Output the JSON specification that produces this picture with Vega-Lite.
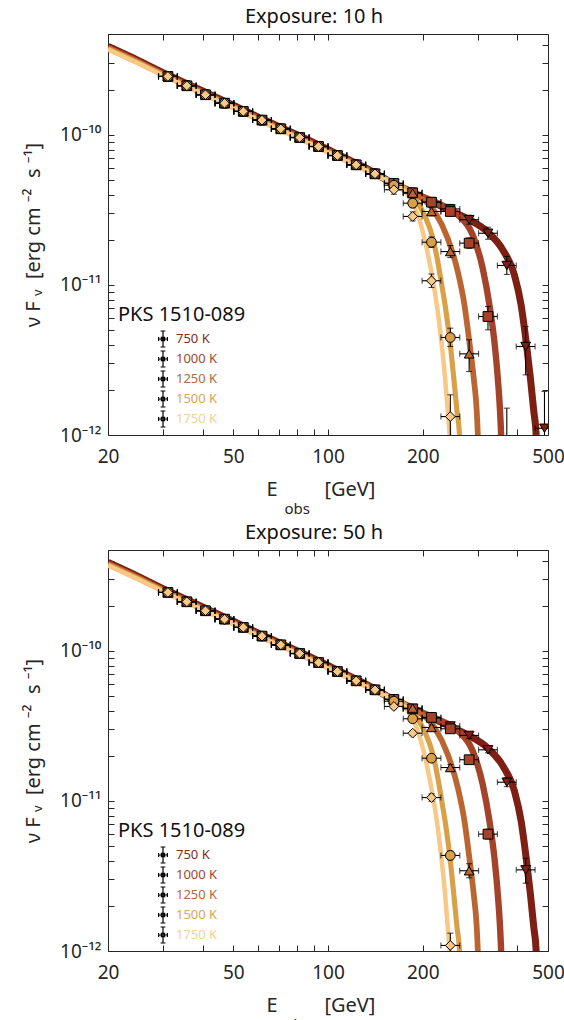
{
"$schema": "https://vega.github.io/schema/vega-lite/v6.json",
"padding": {"left": 23, "top": 6, "right": 5, "bottom": 5},
"config": {"font": "Noto Sans", "view": {"stroke": "#262626", "strokeWidth": 1}, "axis": {"grid": false, "labelColor": "#262626", "titleColor": "#262626", "tickColor": "#262626", "labelFont": "Noto Sans", "titleFont": "Noto Sans"}, "legend": {"labelFont": "Noto Sans", "titleFont": "Noto Sans"}},
"datasets": {
"curves": [
{"s":"750 K","E":20,"F":3.890e-10},{"s":"750 K","E":25,"F":3.133e-10},{"s":"750 K","E":31,"F":2.512e-10},{"s":"750 K","E":40,"F":1.963e-10},{"s":"750 K","E":50,"F":1.581e-10},{"s":"750 K","E":63,"F":1.253e-10},{"s":"750 K","E":81.3,"F":9.840e-11},{"s":"750 K","E":100,"F":7.998e-11},{"s":"750 K","E":125,"F":6.360e-11},{"s":"750 K","E":141,"F":5.580e-11},{"s":"750 K","E":160,"F":4.790e-11},{"s":"750 K","E":186,"F":4.140e-11},{"s":"750 K","E":213,"F":3.589e-11},{"s":"750 K","E":245,"F":3.126e-11},{"s":"750 K","E":278,"F":2.754e-11},{"s":"750 K","E":322,"F":2.249e-11},{"s":"750 K","E":359,"F":1.718e-11},{"s":"750 K","E":391,"F":1.169e-11},{"s":"750 K","E":410.6,"F":7.379e-12},{"s":"750 K","E":426,"F":4.198e-12},{"s":"750 K","E":439.6,"F":2.393e-12},{"s":"750 K","E":450.7,"F":1.436e-12},{"s":"750 K","E":458.2,"F":1.028e-12},{"s":"750 K","E":463,"F":5.012e-13},
{"s":"1000 K","E":20,"F":3.802e-10},{"s":"1000 K","E":25,"F":3.062e-10},{"s":"1000 K","E":31,"F":2.455e-10},{"s":"1000 K","E":40,"F":1.919e-10},{"s":"1000 K","E":50,"F":1.545e-10},{"s":"1000 K","E":63,"F":1.225e-10},{"s":"1000 K","E":81.3,"F":9.616e-11},{"s":"1000 K","E":100,"F":7.816e-11},{"s":"1000 K","E":125,"F":6.252e-11},{"s":"1000 K","E":141,"F":5.508e-11},{"s":"1000 K","E":160,"F":4.753e-11},{"s":"1000 K","E":186,"F":4.121e-11},{"s":"1000 K","E":223,"F":3.508e-11},{"s":"1000 K","E":258,"F":2.951e-11},{"s":"1000 K","E":288,"F":2.163e-11},{"s":"1000 K","E":310,"F":1.294e-11},{"s":"1000 K","E":325.7,"F":7.379e-12},{"s":"1000 K","E":337.8,"F":4.198e-12},{"s":"1000 K","E":346.3,"F":2.393e-12},{"s":"1000 K","E":352.1,"F":1.436e-12},{"s":"1000 K","E":354.7,"F":1.028e-12},{"s":"1000 K","E":358,"F":5.012e-13},
{"s":"1250 K","E":20,"F":3.802e-10},{"s":"1250 K","E":25,"F":3.062e-10},{"s":"1250 K","E":31,"F":2.455e-10},{"s":"1250 K","E":40,"F":1.919e-10},{"s":"1250 K","E":50,"F":1.545e-10},{"s":"1250 K","E":63,"F":1.225e-10},{"s":"1250 K","E":81.3,"F":9.616e-11},{"s":"1250 K","E":100,"F":7.816e-11},{"s":"1250 K","E":125,"F":6.252e-11},{"s":"1250 K","E":141,"F":5.508e-11},{"s":"1250 K","E":160,"F":4.732e-11},{"s":"1250 K","E":188,"F":4.074e-11},{"s":"1250 K","E":218,"F":3.090e-11},{"s":"1250 K","E":240,"F":2.051e-11},{"s":"1250 K","E":258.4,"F":1.230e-11},{"s":"1250 K","E":271.3,"F":7.379e-12},{"s":"1250 K","E":281.2,"F":4.198e-12},{"s":"1250 K","E":290.4,"F":2.393e-12},{"s":"1250 K","E":296.9,"F":1.436e-12},{"s":"1250 K","E":299.1,"F":1.028e-12},{"s":"1250 K","E":302,"F":5.012e-13},
{"s":"1500 K","E":20,"F":3.758e-10},{"s":"1500 K","E":25,"F":3.027e-10},{"s":"1500 K","E":31,"F":2.427e-10},{"s":"1500 K","E":40,"F":1.897e-10},{"s":"1500 K","E":50,"F":1.528e-10},{"s":"1500 K","E":63,"F":1.211e-10},{"s":"1500 K","E":81.3,"F":9.506e-11},{"s":"1500 K","E":100,"F":7.727e-11},{"s":"1500 K","E":125,"F":6.180e-11},{"s":"1500 K","E":141,"F":5.445e-11},{"s":"1500 K","E":155,"F":5.012e-11},{"s":"1500 K","E":170.6,"F":4.571e-11},{"s":"1500 K","E":188.1,"F":3.793e-11},{"s":"1500 K","E":202.4,"F":2.938e-11},{"s":"1500 K","E":215.3,"F":2.051e-11},{"s":"1500 K","E":223.2,"F":1.435e-11},{"s":"1500 K","E":229.8,"F":1.002e-11},{"s":"1500 K","E":237.2,"F":6.653e-12},{"s":"1500 K","E":244.8,"F":3.990e-12},{"s":"1500 K","E":251,"F":2.393e-12},{"s":"1500 K","E":257,"F":1.436e-12},{"s":"1500 K","E":261.5,"F":1.028e-12},{"s":"1500 K","E":265,"F":5.012e-13},
{"s":"1750 K","E":20,"F":3.715e-10},{"s":"1750 K","E":25,"F":2.992e-10},{"s":"1750 K","E":31,"F":2.399e-10},{"s":"1750 K","E":40,"F":1.875e-10},{"s":"1750 K","E":50,"F":1.510e-10},{"s":"1750 K","E":63,"F":1.197e-10},{"s":"1750 K","E":81.3,"F":9.397e-11},{"s":"1750 K","E":100,"F":7.638e-11},{"s":"1750 K","E":125,"F":6.109e-11},{"s":"1750 K","E":141,"F":5.383e-11},{"s":"1750 K","E":158.6,"F":4.842e-11},{"s":"1750 K","E":179.2,"F":3.990e-11},{"s":"1750 K","E":192.8,"F":2.938e-11},{"s":"1750 K","E":202.4,"F":2.051e-11},{"s":"1750 K","E":209.9,"F":1.435e-11},{"s":"1750 K","E":216.7,"F":1.002e-11},{"s":"1750 K","E":223.2,"F":6.653e-12},{"s":"1750 K","E":229.8,"F":3.990e-12},{"s":"1750 K","E":235.5,"F":2.393e-12},{"s":"1750 K","E":240.2,"F":1.436e-12},{"s":"1750 K","E":243.1,"F":1.028e-12},{"s":"1750 K","E":246,"F":5.012e-13}
],
"p10": [
{"s":["750 K","1000 K","1250 K","1500 K","1750 K"],"E":31.0,"e0":28.94,"e1":33.21,"F":2.455e-10,"lo":2.291e-10,"hi":2.630e-10},
{"s":["750 K","1000 K","1250 K","1500 K","1750 K"],"E":35.6,"e0":33.21,"e1":38.12,"F":2.128e-10,"lo":1.986e-10,"hi":2.280e-10},
{"s":["750 K","1000 K","1250 K","1500 K","1750 K"],"E":40.8,"e0":38.12,"e1":43.75,"F":1.854e-10,"lo":1.730e-10,"hi":1.987e-10},
{"s":["750 K","1000 K","1250 K","1500 K","1750 K"],"E":46.9,"e0":43.75,"e1":50.2,"F":1.629e-10,"lo":1.520e-10,"hi":1.745e-10},
{"s":["750 K","1000 K","1250 K","1500 K","1750 K"],"E":53.8,"e0":50.2,"e1":57.6,"F":1.436e-10,"lo":1.340e-10,"hi":1.539e-10},
{"s":["750 K","1000 K","1250 K","1500 K","1750 K"],"E":61.7,"e0":57.6,"e1":66.1,"F":1.256e-10,"lo":1.172e-10,"hi":1.346e-10},
{"s":["750 K","1000 K","1250 K","1500 K","1750 K"],"E":70.8,"e0":66.1,"e1":75.9,"F":1.099e-10,"lo":1.026e-10,"hi":1.178e-10},
{"s":["750 K","1000 K","1250 K","1500 K","1750 K"],"E":81.3,"e0":75.9,"e1":87.1,"F":9.616e-11,"lo":8.974e-11,"hi":1.030e-10},
{"s":["750 K","1000 K","1250 K","1500 K","1750 K"],"E":93.3,"e0":87.1,"e1":100.0,"F":8.375e-11,"lo":7.816e-11,"hi":8.974e-11},
{"s":["750 K","1000 K","1250 K","1500 K","1750 K"],"E":107.1,"e0":100.0,"e1":114.7,"F":7.295e-11,"lo":6.808e-11,"hi":7.817e-11},
{"s":["750 K","1000 K","1250 K","1500 K","1750 K"],"E":122.9,"e0":114.7,"e1":131.7,"F":6.324e-11,"lo":5.902e-11,"hi":6.776e-11},
{"s":["750 K","1000 K","1250 K","1500 K","1750 K"],"E":141.0,"e0":131.7,"e1":151.1,"F":5.508e-11,"lo":5.140e-11,"hi":5.902e-11},
{"s":["750 K","1000 K","1250 K"],"E":161.9,"e0":151.1,"e1":173.4,"F":4.753e-11,"lo":4.436e-11,"hi":5.093e-11},
{"s":["1500 K"],"E":161.9,"e0":151.1,"e1":173.4,"F":4.624e-11,"lo":4.315e-11,"hi":4.955e-11},
{"s":["1750 K"],"E":161.9,"e0":151.1,"e1":173.4,"F":4.315e-11,"lo":4.027e-11,"hi":4.624e-11},
{"s":["750 K"],"E":185.8,"e0":173.4,"e1":199.0,"F":4.140e-11,"lo":3.864e-11,"hi":4.436e-11},
{"s":["1000 K"],"E":185.8,"e0":173.4,"e1":199.0,"F":4.111e-11,"lo":3.837e-11,"hi":4.405e-11},
{"s":["1250 K"],"E":185.8,"e0":173.4,"e1":199.0,"F":4.093e-11,"lo":3.820e-11,"hi":4.386e-11},
{"s":["1500 K"],"E":185.8,"e0":173.4,"e1":199.0,"F":3.508e-11,"lo":3.274e-11,"hi":3.759e-11},
{"s":["1750 K"],"E":185.8,"e0":173.4,"e1":199.0,"F":2.864e-11,"lo":2.673e-11,"hi":3.069e-11},
{"s":["750 K"],"E":213.2,"e0":199.0,"e1":228.4,"F":3.573e-11,"lo":3.335e-11,"hi":3.829e-11},
{"s":["1000 K"],"E":213.2,"e0":199.0,"e1":228.4,"F":3.565e-11,"lo":3.327e-11,"hi":3.820e-11},
{"s":["1250 K"],"E":213.2,"e0":199.0,"e1":228.4,"F":3.090e-11,"lo":2.884e-11,"hi":3.311e-11},
{"s":["1500 K"],"E":213.2,"e0":199.0,"e1":228.4,"F":1.928e-11,"lo":1.779e-11,"hi":2.090e-11},
{"s":["1750 K"],"E":213.2,"e0":199.0,"e1":228.4,"F":1.067e-11,"lo":9.62e-12,"hi":1.183e-11},
{"s":["750 K"],"E":244.7,"e0":228.4,"e1":262.2,"F":3.214e-11,"lo":3.000e-11,"hi":3.444e-11},
{"s":["1000 K"],"E":244.7,"e0":228.4,"e1":262.2,"F":3.090e-11,"lo":2.884e-11,"hi":3.311e-11},
{"s":["1250 K"],"E":244.7,"e0":228.4,"e1":262.2,"F":1.671e-11,"lo":1.524e-11,"hi":1.832e-11},
{"s":["1500 K"],"E":244.7,"e0":228.4,"e1":262.2,"F":4.467e-12,"lo":3.890e-12,"hi":5.152e-12},
{"s":["1750 K"],"E":244.7,"e0":228.4,"e1":262.2,"F":1.327e-12,"lo":5.0e-13,"hi":1.854e-12},
{"s":["750 K"],"E":280.8,"e0":262.2,"e1":300.9,"F":2.723e-11,"lo":2.541e-11,"hi":2.918e-11},
{"s":["1000 K"],"E":280.8,"e0":262.2,"e1":300.9,"F":1.901e-11,"lo":1.754e-11,"hi":2.061e-11},
{"s":["1250 K"],"E":280.8,"e0":262.2,"e1":300.9,"F":3.475e-12,"lo":2.649e-12,"hi":4.315e-12},
{"s":["750 K"],"E":322.3,"e0":300.9,"e1":345.3,"F":2.213e-11,"lo":2.018e-11,"hi":2.427e-11},
{"s":["1000 K"],"E":322.3,"e0":300.9,"e1":345.3,"F":6.166e-12,"lo":5.023e-12,"hi":7.194e-12},
{"s":["750 K"],"E":369.9,"e0":345.3,"e1":396.3,"F":1.349e-11,"lo":1.175e-11,"hi":1.549e-11},
{"s":["1000 K"],"E":369.9,"e0":345.3,"e1":396.3,"F":5.0e-13,"lo":1.0e-13,"hi":1.510e-12},
{"s":["750 K"],"E":424.6,"e0":396.3,"e1":454.9,"F":3.890e-12,"lo":2.518e-12,"hi":5.284e-12},
{"s":["750 K"],"E":487.3,"e0":454.9,"e1":522.1,"F":1.109e-12,"lo":3.0e-13,"hi":1.950e-12}
],
"p50": [
{"s":["750 K","1000 K","1250 K","1500 K","1750 K"],"E":31.0,"e0":28.94,"e1":33.21,"F":2.455e-10,"lo":2.372e-10,"hi":2.541e-10},
{"s":["750 K","1000 K","1250 K","1500 K","1750 K"],"E":35.6,"e0":33.21,"e1":38.12,"F":2.128e-10,"lo":2.056e-10,"hi":2.203e-10},
{"s":["750 K","1000 K","1250 K","1500 K","1750 K"],"E":40.8,"e0":38.12,"e1":43.75,"F":1.854e-10,"lo":1.791e-10,"hi":1.919e-10},
{"s":["750 K","1000 K","1250 K","1500 K","1750 K"],"E":46.9,"e0":43.75,"e1":50.2,"F":1.629e-10,"lo":1.574e-10,"hi":1.686e-10},
{"s":["750 K","1000 K","1250 K","1500 K","1750 K"],"E":53.8,"e0":50.2,"e1":57.6,"F":1.436e-10,"lo":1.387e-10,"hi":1.486e-10},
{"s":["750 K","1000 K","1250 K","1500 K","1750 K"],"E":61.7,"e0":57.6,"e1":66.1,"F":1.256e-10,"lo":1.213e-10,"hi":1.300e-10},
{"s":["750 K","1000 K","1250 K","1500 K","1750 K"],"E":70.8,"e0":66.1,"e1":75.9,"F":1.099e-10,"lo":1.062e-10,"hi":1.138e-10},
{"s":["750 K","1000 K","1250 K","1500 K","1750 K"],"E":81.3,"e0":75.9,"e1":87.1,"F":9.616e-11,"lo":9.290e-11,"hi":9.954e-11},
{"s":["750 K","1000 K","1250 K","1500 K","1750 K"],"E":93.3,"e0":87.1,"e1":100.0,"F":8.375e-11,"lo":8.091e-11,"hi":8.669e-11},
{"s":["750 K","1000 K","1250 K","1500 K","1750 K"],"E":107.1,"e0":100.0,"e1":114.7,"F":7.295e-11,"lo":7.048e-11,"hi":7.551e-11},
{"s":["750 K","1000 K","1250 K","1500 K","1750 K"],"E":122.9,"e0":114.7,"e1":131.7,"F":6.324e-11,"lo":6.110e-11,"hi":6.546e-11},
{"s":["750 K","1000 K","1250 K","1500 K","1750 K"],"E":141.0,"e0":131.7,"e1":151.1,"F":5.508e-11,"lo":5.321e-11,"hi":5.701e-11},
{"s":["750 K","1000 K","1250 K"],"E":161.9,"e0":151.1,"e1":173.4,"F":4.753e-11,"lo":4.592e-11,"hi":4.920e-11},
{"s":["1500 K"],"E":161.9,"e0":151.1,"e1":173.4,"F":4.624e-11,"lo":4.467e-11,"hi":4.786e-11},
{"s":["1750 K"],"E":161.9,"e0":151.1,"e1":173.4,"F":4.266e-11,"lo":4.121e-11,"hi":4.416e-11},
{"s":["750 K"],"E":185.8,"e0":173.4,"e1":199.0,"F":4.140e-11,"lo":4.000e-11,"hi":4.285e-11},
{"s":["1000 K"],"E":185.8,"e0":173.4,"e1":199.0,"F":4.111e-11,"lo":3.972e-11,"hi":4.255e-11},
{"s":["1250 K"],"E":185.8,"e0":173.4,"e1":199.0,"F":4.159e-11,"lo":4.018e-11,"hi":4.305e-11},
{"s":["1500 K"],"E":185.8,"e0":173.4,"e1":199.0,"F":3.532e-11,"lo":3.412e-11,"hi":3.656e-11},
{"s":["1750 K"],"E":185.8,"e0":173.4,"e1":199.0,"F":2.831e-11,"lo":2.735e-11,"hi":2.930e-11},
{"s":["750 K"],"E":213.2,"e0":199.0,"e1":228.4,"F":3.573e-11,"lo":3.452e-11,"hi":3.698e-11},
{"s":["1000 K"],"E":213.2,"e0":199.0,"e1":228.4,"F":3.606e-11,"lo":3.484e-11,"hi":3.733e-11},
{"s":["1250 K"],"E":213.2,"e0":199.0,"e1":228.4,"F":3.090e-11,"lo":2.985e-11,"hi":3.198e-11},
{"s":["1500 K"],"E":213.2,"e0":199.0,"e1":228.4,"F":1.928e-11,"lo":1.841e-11,"hi":2.019e-11},
{"s":["1750 K"],"E":213.2,"e0":199.0,"e1":228.4,"F":1.054e-11,"lo":9.95e-12,"hi":1.116e-11},
{"s":["750 K"],"E":244.7,"e0":228.4,"e1":262.2,"F":3.162e-11,"lo":3.055e-11,"hi":3.273e-11},
{"s":["1000 K"],"E":244.7,"e0":228.4,"e1":262.2,"F":3.027e-11,"lo":2.924e-11,"hi":3.133e-11},
{"s":["1250 K"],"E":244.7,"e0":228.4,"e1":262.2,"F":1.671e-11,"lo":1.596e-11,"hi":1.750e-11},
{"s":["1500 K"],"E":244.7,"e0":228.4,"e1":262.2,"F":4.335e-12,"lo":4.046e-12,"hi":4.645e-12},
{"s":["1750 K"],"E":244.7,"e0":228.4,"e1":262.2,"F":1.089e-12,"lo":8.91e-13,"hi":1.315e-12},
{"s":["750 K"],"E":280.8,"e0":262.2,"e1":300.9,"F":2.735e-11,"lo":2.612e-11,"hi":2.864e-11},
{"s":["1000 K"],"E":280.8,"e0":262.2,"e1":300.9,"F":1.884e-11,"lo":1.799e-11,"hi":1.973e-11},
{"s":["1250 K"],"E":280.8,"e0":262.2,"e1":300.9,"F":3.428e-12,"lo":3.077e-12,"hi":3.819e-12},
{"s":["750 K"],"E":322.3,"e0":300.9,"e1":345.3,"F":2.193e-11,"lo":2.094e-11,"hi":2.296e-11},
{"s":["1000 K"],"E":322.3,"e0":300.9,"e1":345.3,"F":6.012e-12,"lo":5.572e-12,"hi":6.487e-12},
{"s":["750 K"],"E":369.9,"e0":345.3,"e1":396.3,"F":1.334e-11,"lo":1.245e-11,"hi":1.429e-11},
{"s":["750 K"],"E":424.6,"e0":396.3,"e1":454.9,"F":3.475e-12,"lo":2.831e-12,"hi":4.159e-12}
]
},
"spacing": 115,
"bounds": "flush",
"resolve": {"legend": {"color": "independent"}},
"vconcat": [
{
"title": {"text": "Exposure: 10 h", "fontSize": 20, "fontWeight": "normal", "font": "Noto Sans", "color": "#111111", "anchor": "middle", "dx": -14, "offset": 7},
"width": 440, "height": 401,
"data": {"name": "p10"},
"resolve": {"axis": {"x": "independent", "y": "independent"}},
"layer": [
{"data": {"name": "curves"}, "mark": {"type": "line", "clip": true, "interpolate": "monotone", "strokeCap": "butt"},
 "encoding": {
  "x": {"field": "E", "type": "quantitative", "scale": {"type": "log", "domain": [20, 500], "nice": false}, "axis": {"orient": "bottom", "values": [20, 50, 100, 200, 500], "format": "d", "ticks": false, "domain": false, "labelFontSize": 19, "labelPadding": 12, "labelFlush": false, "labelOverlap": false, "title": "E\u00a0\u00a0\u00a0\u00a0\u00a0\u00a0\u00a0\u00a0\u00a0[GeV]", "titleFontSize": 20, "titleFontWeight": "normal", "titleX": 158, "titleY": 60, "titleAlign": "left", "titleBaseline": "alphabetic"}},
  "y": {"field": "F", "type": "quantitative", "scale": {"type": "log", "domain": [1e-12, 4.71e-10], "nice": false}, "axis": {"orient": "left", "values": [1e-12, 1e-11, 1e-10], "ticks": false, "domain": false, "labelExpr": "datum.value < 2e-12 ? '10⁻¹²' : datum.value < 2e-11 ? '10⁻¹¹' : '10⁻¹⁰'", "labelFontSize": 19, "labelPadding": 7, "labelFlush": false, "labelOverlap": false, "title": "ν\u00a0F\u00a0ᵥ\u00a0\u00a0[erg\u00a0cm\u00a0⁻²\u00a0\u00a0s\u00a0⁻¹]", "titleFontSize": 20, "titleFontWeight": "normal", "titlePadding": 16}},
  "stroke": {"field": "s", "type": "nominal", "scale": {"domain": ["750 K", "1000 K", "1250 K", "1500 K", "1750 K"], "range": ["#7E1F14", "#A4422A", "#BB6632", "#D9A049", "#F8C986"]}, "legend": null},
  "strokeWidth": {"field": "s", "type": "ordinal", "scale": {"domain": ["750 K", "1000 K", "1250 K", "1500 K", "1750 K"], "range": [7, 4.5, 4.5, 4.5, 5]}, "legend": null}
 }},
{"transform": [{"flatten": ["s"]}], "mark": {"type": "rule", "clip": true, "color": "black", "strokeWidth": 1.1},
 "encoding": {
  "x": {"field": "e0", "type": "quantitative", "scale": {"type": "log", "domain": [20, 500], "nice": false}, "axis": {"orient": "bottom", "values": [20, 30, 40, 50, 60, 70, 80, 90, 100, 200, 300, 400, 500], "labels": false, "domain": false, "ticks": true, "tickSize": -6, "title": null}},
  "x2": {"field": "e1"},
  "y": {"field": "F", "type": "quantitative", "scale": {"type": "log", "domain": [1e-12, 4.71e-10], "nice": false}, "axis": {"orient": "left", "values": [1e-12, 2e-12, 3e-12, 4e-12, 5e-12, 6e-12, 7e-12, 8e-12, 9e-12, 1e-11, 2e-11, 3e-11, 4e-11, 5e-11, 6e-11, 7e-11, 8e-11, 9e-11, 1e-10, 2e-10, 3e-10, 4e-10], "labels": false, "domain": false, "ticks": true, "tickSize": -6, "title": null}}
 }},
{"transform": [{"flatten": ["s"]}], "mark": {"type": "rule", "clip": true, "color": "black", "strokeWidth": 1.1},
 "encoding": {
  "x": {"field": "E", "type": "quantitative", "scale": {"type": "log", "domain": [20, 500], "nice": false}, "axis": {"orient": "top", "values": [20, 30, 40, 50, 60, 70, 80, 90, 100, 200, 300, 400, 500], "labels": false, "domain": false, "ticks": true, "tickSize": -6, "title": null}},
  "y": {"field": "lo", "type": "quantitative", "scale": {"type": "log", "domain": [1e-12, 4.71e-10], "nice": false}, "axis": {"orient": "right", "values": [1e-12, 2e-12, 3e-12, 4e-12, 5e-12, 6e-12, 7e-12, 8e-12, 9e-12, 1e-11, 2e-11, 3e-11, 4e-11, 5e-11, 6e-11, 7e-11, 8e-11, 9e-11, 1e-10, 2e-10, 3e-10, 4e-10], "labels": false, "domain": false, "ticks": true, "tickSize": -6, "title": null}},
  "y2": {"field": "hi"}
 }},
{"transform": [{"flatten": ["s"]}], "mark": {"type": "tick", "orient": "horizontal", "size": 6, "thickness": 1.1, "color": "black", "clip": true},
 "encoding": {
  "x": {"field": "E", "type": "quantitative", "scale": {"type": "log", "domain": [20, 500], "nice": false}, "axis": {"orient": "bottom", "labels": false, "ticks": false, "domain": false, "title": "obs", "titleFontSize": 15, "titleFontWeight": "normal", "titleX": 176, "titleY": 78, "titleAlign": "left", "titleBaseline": "alphabetic"}},
  "y": {"field": "lo", "type": "quantitative", "scale": {"type": "log", "domain": [1e-12, 4.71e-10], "nice": false}, "axis": null}
 }},
{"transform": [{"flatten": ["s"]}], "mark": {"type": "tick", "orient": "horizontal", "size": 6, "thickness": 1.1, "color": "black", "clip": true},
 "encoding": {
  "x": {"field": "E", "type": "quantitative", "scale": {"type": "log", "domain": [20, 500], "nice": false}, "axis": null},
  "y": {"field": "hi", "type": "quantitative", "scale": {"type": "log", "domain": [1e-12, 4.71e-10], "nice": false}, "axis": null}
 }},
{"transform": [{"flatten": ["s"]}], "mark": {"type": "tick", "orient": "vertical", "size": 6, "thickness": 1.1, "color": "black", "clip": true},
 "encoding": {
  "x": {"field": "e0", "type": "quantitative", "scale": {"type": "log", "domain": [20, 500], "nice": false}, "axis": null},
  "y": {"field": "F", "type": "quantitative", "scale": {"type": "log", "domain": [1e-12, 4.71e-10], "nice": false}, "axis": null}
 }},
{"transform": [{"flatten": ["s"]}], "mark": {"type": "tick", "orient": "vertical", "size": 6, "thickness": 1.1, "color": "black", "clip": true},
 "encoding": {
  "x": {"field": "e1", "type": "quantitative", "scale": {"type": "log", "domain": [20, 500], "nice": false}, "axis": null},
  "y": {"field": "F", "type": "quantitative", "scale": {"type": "log", "domain": [1e-12, 4.71e-10], "nice": false}, "axis": null}
 }},
{"transform": [{"flatten": ["s"]}], "mark": {"type": "point", "filled": true, "stroke": "black", "strokeWidth": 1, "size": 95, "opacity": 1, "clip": true},
 "encoding": {
  "x": {"field": "E", "type": "quantitative", "scale": {"type": "log", "domain": [20, 500], "nice": false}, "axis": null},
  "y": {"field": "F", "type": "quantitative", "scale": {"type": "log", "domain": [1e-12, 4.71e-10], "nice": false}, "axis": null},
  "color": {"field": "s", "type": "nominal", "scale": {"domain": ["750 K", "1000 K", "1250 K", "1500 K", "1750 K"], "range": ["#7E1F14", "#A4422A", "#BB6632", "#D9A049", "#F8C986"]},
   "legend": {"orient": "none", "legendX": 10, "legendY": 271, "title": "PKS 1510-089", "titleFontSize": 20, "titleFontWeight": "normal", "titleColor": "#111111", "titlePadding": 5, "padding": 0, "labelFontSize": 13, "labelOffset": 4, "labelColor": {"expr": "datum.value == '750 K' ? '#7E2A1F' : datum.value == '1000 K' ? '#A0472F' : datum.value == '1250 K' ? '#B3683A' : datum.value == '1500 K' ? '#DCA552' : '#F6CF95'"}, "symbolOffset": 36, "symbolSize": 256, "symbolStrokeColor": "black", "symbolStrokeWidth": 1.2, "symbolType": "M0,-1L0,1M-0.3,-1L0.3,-1M-0.3,1L0.3,1M-0.55,0L0.55,0M-0.55,-0.25L-0.55,0.25M0.55,-0.25L0.55,0.25M-0.2,-0.2L0.2,-0.2L0.2,0.2L-0.2,0.2Z", "rowPadding": -2,
    "encode": {"symbols": {"update": {"stroke": {"value": "black"}, "strokeWidth": {"value": 1.2}, "opacity": {"value": 1}}}}}},
  "shape": {"field": "s", "type": "nominal", "scale": {"domain": ["750 K", "1000 K", "1250 K", "1500 K", "1750 K"], "range": ["triangle-down", "square", "triangle-up", "circle", "diamond"]}, "legend": null}
 }}
]
},
{
"title": {"text": "Exposure: 50 h", "fontSize": 20, "fontWeight": "normal", "font": "Noto Sans", "color": "#111111", "anchor": "middle", "dx": -14, "offset": 7},
"width": 440, "height": 401,
"data": {"name": "p50"},
"resolve": {"axis": {"x": "independent", "y": "independent"}},
"layer": [
{"data": {"name": "curves"}, "mark": {"type": "line", "clip": true, "interpolate": "monotone", "strokeCap": "butt"},
 "encoding": {
  "x": {"field": "E", "type": "quantitative", "scale": {"type": "log", "domain": [20, 500], "nice": false}, "axis": {"orient": "bottom", "values": [20, 50, 100, 200, 500], "format": "d", "ticks": false, "domain": false, "labelFontSize": 19, "labelPadding": 12, "labelFlush": false, "labelOverlap": false, "title": "E\u00a0\u00a0\u00a0\u00a0\u00a0\u00a0\u00a0\u00a0\u00a0[GeV]", "titleFontSize": 20, "titleFontWeight": "normal", "titleX": 158, "titleY": 60, "titleAlign": "left", "titleBaseline": "alphabetic"}},
  "y": {"field": "F", "type": "quantitative", "scale": {"type": "log", "domain": [1e-12, 4.71e-10], "nice": false}, "axis": {"orient": "left", "values": [1e-12, 1e-11, 1e-10], "ticks": false, "domain": false, "labelExpr": "datum.value < 2e-12 ? '10⁻¹²' : datum.value < 2e-11 ? '10⁻¹¹' : '10⁻¹⁰'", "labelFontSize": 19, "labelPadding": 7, "labelFlush": false, "labelOverlap": false, "title": "ν\u00a0F\u00a0ᵥ\u00a0\u00a0[erg\u00a0cm\u00a0⁻²\u00a0\u00a0s\u00a0⁻¹]", "titleFontSize": 20, "titleFontWeight": "normal", "titlePadding": 16}},
  "stroke": {"field": "s", "type": "nominal", "scale": {"domain": ["750 K", "1000 K", "1250 K", "1500 K", "1750 K"], "range": ["#7E1F14", "#A4422A", "#BB6632", "#D9A049", "#F8C986"]}, "legend": null},
  "strokeWidth": {"field": "s", "type": "ordinal", "scale": {"domain": ["750 K", "1000 K", "1250 K", "1500 K", "1750 K"], "range": [7, 4.5, 4.5, 4.5, 5]}, "legend": null}
 }},
{"transform": [{"flatten": ["s"]}], "mark": {"type": "rule", "clip": true, "color": "black", "strokeWidth": 1.1},
 "encoding": {
  "x": {"field": "e0", "type": "quantitative", "scale": {"type": "log", "domain": [20, 500], "nice": false}, "axis": {"orient": "bottom", "values": [20, 30, 40, 50, 60, 70, 80, 90, 100, 200, 300, 400, 500], "labels": false, "domain": false, "ticks": true, "tickSize": -6, "title": null}},
  "x2": {"field": "e1"},
  "y": {"field": "F", "type": "quantitative", "scale": {"type": "log", "domain": [1e-12, 4.71e-10], "nice": false}, "axis": {"orient": "left", "values": [1e-12, 2e-12, 3e-12, 4e-12, 5e-12, 6e-12, 7e-12, 8e-12, 9e-12, 1e-11, 2e-11, 3e-11, 4e-11, 5e-11, 6e-11, 7e-11, 8e-11, 9e-11, 1e-10, 2e-10, 3e-10, 4e-10], "labels": false, "domain": false, "ticks": true, "tickSize": -6, "title": null}}
 }},
{"transform": [{"flatten": ["s"]}], "mark": {"type": "rule", "clip": true, "color": "black", "strokeWidth": 1.1},
 "encoding": {
  "x": {"field": "E", "type": "quantitative", "scale": {"type": "log", "domain": [20, 500], "nice": false}, "axis": {"orient": "top", "values": [20, 30, 40, 50, 60, 70, 80, 90, 100, 200, 300, 400, 500], "labels": false, "domain": false, "ticks": true, "tickSize": -6, "title": null}},
  "y": {"field": "lo", "type": "quantitative", "scale": {"type": "log", "domain": [1e-12, 4.71e-10], "nice": false}, "axis": {"orient": "right", "values": [1e-12, 2e-12, 3e-12, 4e-12, 5e-12, 6e-12, 7e-12, 8e-12, 9e-12, 1e-11, 2e-11, 3e-11, 4e-11, 5e-11, 6e-11, 7e-11, 8e-11, 9e-11, 1e-10, 2e-10, 3e-10, 4e-10], "labels": false, "domain": false, "ticks": true, "tickSize": -6, "title": null}},
  "y2": {"field": "hi"}
 }},
{"transform": [{"flatten": ["s"]}], "mark": {"type": "tick", "orient": "horizontal", "size": 6, "thickness": 1.1, "color": "black", "clip": true},
 "encoding": {
  "x": {"field": "E", "type": "quantitative", "scale": {"type": "log", "domain": [20, 500], "nice": false}, "axis": {"orient": "bottom", "labels": false, "ticks": false, "domain": false, "title": "obs", "titleFontSize": 15, "titleFontWeight": "normal", "titleX": 176, "titleY": 78, "titleAlign": "left", "titleBaseline": "alphabetic"}},
  "y": {"field": "lo", "type": "quantitative", "scale": {"type": "log", "domain": [1e-12, 4.71e-10], "nice": false}, "axis": null}
 }},
{"transform": [{"flatten": ["s"]}], "mark": {"type": "tick", "orient": "horizontal", "size": 6, "thickness": 1.1, "color": "black", "clip": true},
 "encoding": {
  "x": {"field": "E", "type": "quantitative", "scale": {"type": "log", "domain": [20, 500], "nice": false}, "axis": null},
  "y": {"field": "hi", "type": "quantitative", "scale": {"type": "log", "domain": [1e-12, 4.71e-10], "nice": false}, "axis": null}
 }},
{"transform": [{"flatten": ["s"]}], "mark": {"type": "tick", "orient": "vertical", "size": 6, "thickness": 1.1, "color": "black", "clip": true},
 "encoding": {
  "x": {"field": "e0", "type": "quantitative", "scale": {"type": "log", "domain": [20, 500], "nice": false}, "axis": null},
  "y": {"field": "F", "type": "quantitative", "scale": {"type": "log", "domain": [1e-12, 4.71e-10], "nice": false}, "axis": null}
 }},
{"transform": [{"flatten": ["s"]}], "mark": {"type": "tick", "orient": "vertical", "size": 6, "thickness": 1.1, "color": "black", "clip": true},
 "encoding": {
  "x": {"field": "e1", "type": "quantitative", "scale": {"type": "log", "domain": [20, 500], "nice": false}, "axis": null},
  "y": {"field": "F", "type": "quantitative", "scale": {"type": "log", "domain": [1e-12, 4.71e-10], "nice": false}, "axis": null}
 }},
{"transform": [{"flatten": ["s"]}], "mark": {"type": "point", "filled": true, "stroke": "black", "strokeWidth": 1, "size": 95, "opacity": 1, "clip": true},
 "encoding": {
  "x": {"field": "E", "type": "quantitative", "scale": {"type": "log", "domain": [20, 500], "nice": false}, "axis": null},
  "y": {"field": "F", "type": "quantitative", "scale": {"type": "log", "domain": [1e-12, 4.71e-10], "nice": false}, "axis": null},
  "color": {"field": "s", "type": "nominal", "scale": {"domain": ["750 K", "1000 K", "1250 K", "1500 K", "1750 K"], "range": ["#7E1F14", "#A4422A", "#BB6632", "#D9A049", "#F8C986"]},
   "legend": {"orient": "none", "legendX": 10, "legendY": 271, "title": "PKS 1510-089", "titleFontSize": 20, "titleFontWeight": "normal", "titleColor": "#111111", "titlePadding": 5, "padding": 0, "labelFontSize": 13, "labelOffset": 4, "labelColor": {"expr": "datum.value == '750 K' ? '#7E2A1F' : datum.value == '1000 K' ? '#A0472F' : datum.value == '1250 K' ? '#B3683A' : datum.value == '1500 K' ? '#DCA552' : '#F6CF95'"}, "symbolOffset": 36, "symbolSize": 256, "symbolStrokeColor": "black", "symbolStrokeWidth": 1.2, "symbolType": "M0,-1L0,1M-0.3,-1L0.3,-1M-0.3,1L0.3,1M-0.55,0L0.55,0M-0.55,-0.25L-0.55,0.25M0.55,-0.25L0.55,0.25M-0.2,-0.2L0.2,-0.2L0.2,0.2L-0.2,0.2Z", "rowPadding": -2,
    "encode": {"symbols": {"update": {"stroke": {"value": "black"}, "strokeWidth": {"value": 1.2}, "opacity": {"value": 1}}}}}},
  "shape": {"field": "s", "type": "nominal", "scale": {"domain": ["750 K", "1000 K", "1250 K", "1500 K", "1750 K"], "range": ["triangle-down", "square", "triangle-up", "circle", "diamond"]}, "legend": null}
 }}
]
}
]
}
